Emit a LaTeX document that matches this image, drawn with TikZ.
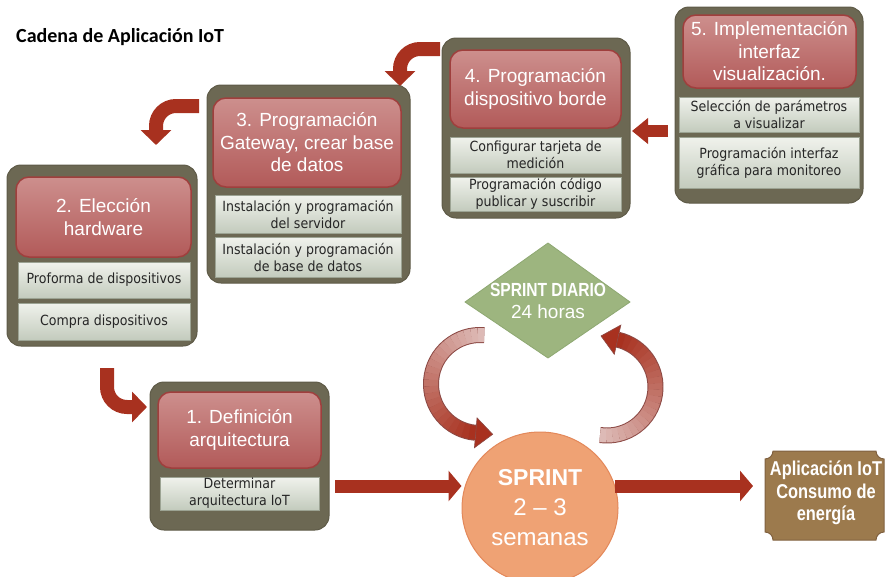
\documentclass[tikz,border=0pt]{standalone}
\usepackage{fontspec}
\setmainfont{Liberation Sans}
\newfontfamily\itemfont[FakeStretch=0.9]{DejaVu Sans}
\newfontfamily\titlefont{Carlito}
\newfontfamily\narrowfont[FakeStretch=0.82]{Liberation Sans}
\usetikzlibrary{arrows.meta,shapes.geometric,calc}
\definecolor{olivebox}{HTML}{6C6853}
\definecolor{olivedark}{HTML}{5E5A47}
\definecolor{redtop}{HTML}{CD8F8D}
\definecolor{redbot}{HTML}{B25A59}
\definecolor{redborder}{HTML}{9F3F3D}
\definecolor{itemtop}{HTML}{F0F2EC}
\definecolor{itembot}{HTML}{C3CBBD}
\definecolor{itemborder}{HTML}{9CA393}
\definecolor{itemtext}{HTML}{262626}
\definecolor{arrowred}{HTML}{A8311F}
\definecolor{arcred}{HTML}{A8311F}
\definecolor{arcpink}{HTML}{DDBAB6}
\definecolor{arcline}{HTML}{8C4A45}
\definecolor{sprintfill}{HTML}{EFA274}
\definecolor{sprintdraw}{HTML}{E3885A}
\definecolor{diamondfill}{HTML}{9DB57F}
\definecolor{diamonddraw}{HTML}{8EA872}
\definecolor{plaquefill}{HTML}{9C7A4D}
\definecolor{plaquedraw}{HTML}{806140}
\begin{document}
\begin{tikzpicture}[x=1pt,y=1pt,
  outerbox/.style={fill=olivebox, draw=olivedark, line width=1pt, rounded corners=14pt, inner sep=0pt, outer sep=0pt},
  redbox/.style={top color=redtop, bottom color=redbot, draw=redborder, line width=1.5pt, rounded corners=13pt, inner sep=0pt, text=white, align=center, font=\fontsize{19}{22.5}\selectfont},
  itembox/.style={top color=itemtop, bottom color=itembot, draw=itemborder, line width=0.5pt, inner sep=0pt, align=center, text=itemtext, font=\itemfont\fontsize{14}{17}\selectfont},
  bentarrow/.style={draw=arrowred, line width=14pt, rounded corners=20pt, -{Triangle[width=30pt,length=15pt]}},
  flatarrow/.style={draw=arrowred, line width=13pt, -{Triangle[width=30pt,length=13pt]}},
]
\useasboundingbox (0,0) rectangle (886,-576);
\clip (0,0) rectangle (886,-576);

% title
\node[anchor=west, inner sep=0pt, font=\titlefont\bfseries\fontsize{20}{22}\selectfont] (title) at (16,-37) {Cadena de Aplicación IoT};

% box 5
\node[outerbox, minimum width=188pt, minimum height=196pt] (o5) at (769,-105) {};
\node[redbox, minimum width=173pt, minimum height=73pt] (r5) at (769.5,-51.5) {5. Implementación\\interfaz\\visualización.};
\node[itembox, minimum width=180pt, minimum height=35pt] (i5a) at (769,-114.5) {Selección de parámetros\\a visualizar};
\node[itembox, minimum width=180pt, minimum height=51pt] (i5b) at (769,-162.5) {Programación interfaz\\gráfica para monitoreo};

% box 4
\node[outerbox, minimum width=188pt, minimum height=180pt] (o4) at (536,-128) {};
\node[redbox, minimum width=171pt, minimum height=78pt] (r4) at (535.5,-89) {4. Programación\\dispositivo borde};
\node[itembox, minimum width=171pt, minimum height=36pt] (i4a) at (535.5,-155) {Configurar tarjeta de\\medición};
\node[itembox, minimum width=171pt, minimum height=34pt] (i4b) at (535.5,-194) {Programación código\\publicar y suscribir};

% box 3
\node[outerbox, minimum width=203pt, minimum height=198pt] (o3) at (308.5,-184) {};
\node[redbox, minimum width=188pt, minimum height=89pt] (r3) at (307,-142.5) {3. Programación\\Gateway, crear base\\de datos};
\node[itembox, minimum width=186pt, minimum height=38pt] (i3a) at (308,-214) {Instalación y programación\\del servidor};
\node[itembox, minimum width=186pt, minimum height=40pt] (i3b) at (308,-257) {Instalación y programación\\de base de datos};

% box 2
\node[outerbox, minimum width=190pt, minimum height=181pt] (o2) at (102,-255.5) {};
\node[redbox, minimum width=175pt, minimum height=80pt] (r2) at (103.5,-217) {2. Elección\\hardware};
\node[itembox, minimum width=172pt, minimum height=36pt] (i2a) at (104,-280) {Proforma de dispositivos};
\node[itembox, minimum width=172pt, minimum height=37pt] (i2b) at (104,-321.5) {Compra dispositivos};

% box 1
\node[outerbox, minimum width=179pt, minimum height=148pt] (o1) at (239.5,-456) {};
\node[redbox, minimum width=163pt, minimum height=76pt] (r1) at (239.5,-430) {1. Definición\\arquitectura};
\node[itembox, minimum width=159pt, minimum height=33pt] (i1) at (239.5,-493.5) {Determinar\\arquitectura IoT};

% bent arrows between boxes
\coordinate (a54s) at (668,-131);
\coordinate (a54e) at (632,-131);
\draw[draw=arrowred, line width=12pt, -{Triangle[width=25pt,length=16pt]}] (a54s) -- (a54e);
\coordinate (a43s) at (440,-49);
\coordinate (a43e) at (400,-86);
\draw[bentarrow] (a43s) -| (a43e);
\coordinate (a32s) at (199,-106);
\coordinate (a32e) at (156,-145);
\draw[bentarrow] (a32s) -| (a32e);
\coordinate (a21s) at (107,-368);
\coordinate (a21e) at (147,-407);
\draw[bentarrow] (a21s) |- (a21e);

% curved arrows of the daily sprint
\draw[arcline, line width=16pt] ($(480,-384)+(85:49pt)$) arc[start angle=85, end angle=265, radius=49pt];
\foreach \i in {0,...,23}{
  \pgfmathsetmacro{\a}{85+\i*7.5}
  \pgfmathsetmacro{\b}{\a+7.8}
  \pgfmathsetmacro{\p}{\i/23*100}
  \draw[line width=14pt, color=arcred!\p!arcpink] ($(480,-384)+(\a:49pt)$) arc[start angle=\a, end angle=\b, radius=49pt];
}
\filldraw[fill=arcred, draw=arcline, line width=0.6pt] (477.04,-417.87) -- (492.67,-434.29) -- (474.42,-447.75) -- cycle;

\draw[arcline, line width=16pt] ($(607,-387)+(261.7:48.5pt)$) arc[start angle=261.7, end angle=437.4, radius=48.5pt];
\foreach \i in {0,...,23}{
  \pgfmathsetmacro{\a}{261.7+\i*7.32}
  \pgfmathsetmacro{\b}{\a+7.6}
  \pgfmathsetmacro{\p}{\i/23*100}
  \draw[line width=14pt, color=arcred!\p!arcpink] ($(607,-387)+(\a:48.5pt)$) arc[start angle=\a, end angle=\b, radius=48.5pt];
}
\filldraw[fill=arcred, draw=arcline, line width=0.6pt] (620.85,-325.03) -- (600.99,-335.96) -- (614.31,-354.31) -- cycle;

% diamond
\filldraw[fill=diamondfill, draw=diamonddraw, line width=0.8pt] (548,-243) -- (630,-302) -- (548,-358) -- (465,-302) -- cycle;
\node[align=center, text=white, inner sep=0pt, font=\fontsize{19}{22}\selectfont] (diario) at (548,-301) {{\narrowfont\bfseries SPRINT DIARIO}\\24 horas};

% sprint circle
\node[ellipse, fill=sprintfill, draw=sprintdraw, line width=1pt, minimum width=156pt, minimum height=152pt, inner sep=0pt, align=center, text=white, font=\fontsize{24}{30}\selectfont] (sprint) at (540,-508) {{\bfseries\fontsize{23}{30}\selectfont SPRINT}\\2 -- 3\\semanas};

% result plaque
\filldraw[fill=plaquefill, draw=plaquedraw, line width=1pt]
  (773,-451) -- (876,-451) arc[start angle=180, end angle=270, radius=8pt]
  -- (884,-532) arc[start angle=90, end angle=180, radius=8pt]
  -- (773,-540) arc[start angle=0, end angle=90, radius=8pt]
  -- (765,-459) arc[start angle=-90, end angle=0, radius=8pt] -- cycle;
\node[align=center, text=white, inner sep=0pt, font=\narrowfont\bfseries\fontsize{20}{22.5}\selectfont] (plaque) at (826,-493) {Aplicación IoT\\Consumo de\\energía};

% straight arrows
\coordinate (s1) at (335,-486);
\coordinate (p1) at (753,-486);
\draw[flatarrow] (s1) -- (s1 -| sprint.west);
\draw[flatarrow] ([xshift=-4pt]sprint.east |- s1) -- (p1);
\end{tikzpicture}
\end{document}
